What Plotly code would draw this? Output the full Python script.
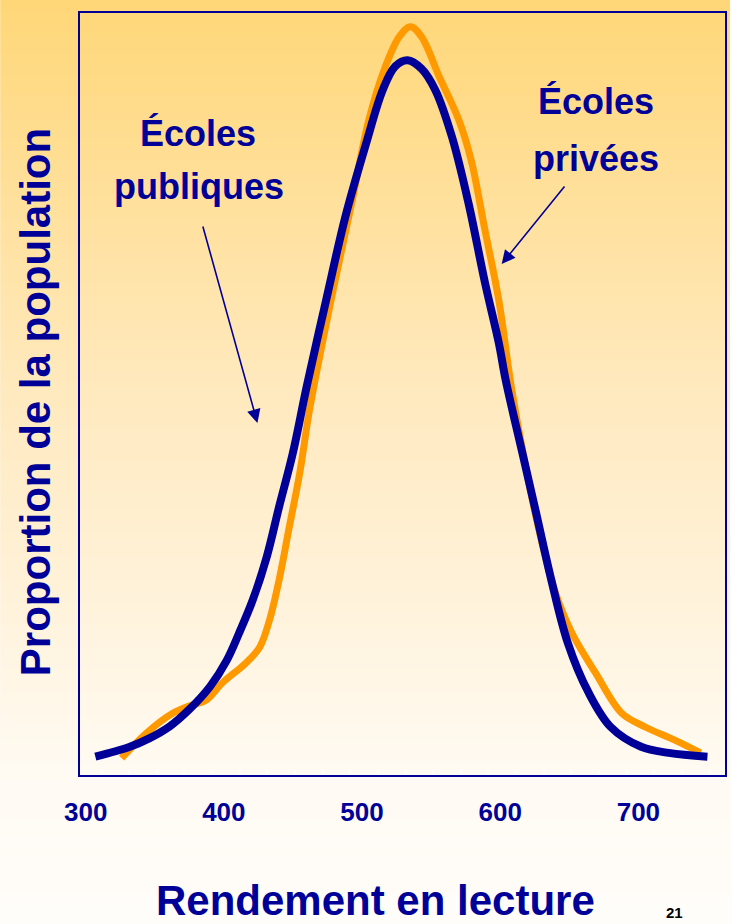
import plotly.graph_objects as go

# Reading score (x) and share of the population (arbitrary density units, y)
public_score = [307, 332, 346, 361, 375, 390, 402, 411, 421, 431, 440, 450, 460, 474,
                488, 503, 515, 524, 533, 543, 553, 565, 577, 589, 599, 604, 616, 625,
                637, 649, 664, 680, 702, 722, 750]
public_share = [0.24, 0.37, 0.48, 0.64, 0.86, 1.16, 1.50, 1.86, 2.30, 2.86, 3.52, 4.23,
                5.10, 6.23, 7.33, 8.29, 8.99, 9.30, 9.38, 9.27, 8.99, 8.38, 7.51, 6.46,
                5.67, 5.18, 4.23, 3.52, 2.56, 1.73, 1.08, 0.63, 0.37, 0.29, 0.24]

private_score = [326, 344, 363, 377, 387, 399, 416, 426, 433, 440, 447, 455, 462, 478,
                 493, 505, 517, 527, 535, 543, 556, 570, 579, 589, 599, 608, 618, 628,
                 640, 652, 669, 688, 705, 726, 745]
private_share = [0.22, 0.55, 0.81, 0.92, 0.98, 1.21, 1.47, 1.68, 2.03, 2.56, 3.22, 3.97,
                 4.79, 6.27, 7.55, 8.60, 9.30, 9.69, 9.82, 9.69, 9.16, 8.60, 8.07, 7.15,
                 6.23, 5.10, 4.09, 3.22, 2.39, 1.86, 1.34, 0.81, 0.63, 0.46, 0.29]

tick_values = [300, 400, 500, 600, 700]
tick_labels = ["300", "400", "500", "600", "700"]

BLUE = "#000099"
ORANGE = "#FF9900"
FONT = "Liberation Sans, Arial, sans-serif"

W, H = 732, 924
ML, MR, MT, MB = 80, 5, 13, 149


def fx(px):
    return (px - ML) / (W - ML - MR)


def fy(py):
    return (H - MB - py) / (H - MT - MB)


# vertical warm gradient for the slide background
stops = [(0, (255, 215, 120)), (390, (255, 233, 190)), (770, (255, 250, 242)), (924, (255, 253, 250))]


def grad(y):
    for (y0, c0), (y1, c1) in zip(stops[:-1], stops[1:]):
        if y <= y1:
            t = (y - y0) / (y1 - y0)
            return "rgb(%d,%d,%d)" % tuple(round(a + (b - a) * t) for a, b in zip(c0, c1))
    return "rgb(%d,%d,%d)" % stops[-1][1]


shapes = []
step = 3
for y in range(0, H, step):
    shapes.append(dict(type="rect", xref="paper", yref="paper", layer="below",
                       x0=fx(0), x1=fx(W), y0=fy(y), y1=fy(y + step + 0.6),
                       fillcolor=grad(y + step / 2), line=dict(width=0)))

fig = go.Figure()
fig.add_trace(go.Scatter(x=private_score, y=private_share, mode="lines",
                         line=dict(color=ORANGE, width=7, shape="spline", smoothing=1),
                         name="Écoles privées", hoverinfo="skip"))
fig.add_trace(go.Scatter(x=public_score, y=public_share, mode="lines",
                         line=dict(color=BLUE, width=8, shape="spline", smoothing=1),
                         name="Écoles publiques", hoverinfo="skip"))


def label(text, px, py, size=36, **kw):
    return dict(text=text, xref="paper", yref="paper", x=fx(px), y=fy(py),
                xanchor="center", yanchor="middle", showarrow=False,
                font=dict(family=FONT, size=size, color=BLUE, weight="bold"), **kw)


def arrow(tip, tail):
    return dict(text="", xref="paper", yref="paper", x=fx(tip[0]), y=fy(tip[1]),
                ax=tail[0] - tip[0], ay=tail[1] - tip[1], showarrow=True,
                arrowhead=2, arrowsize=1.7, arrowwidth=1.6, arrowcolor=BLUE, standoff=0)


annotations = [
    label("Écoles", 198, 133),
    label("publiques", 199, 186),
    label("Écoles", 598, 102),
    label("privées", 598, 159),
    arrow((258, 423), (203, 225)),
    arrow((503, 264), (567, 185)),
    label("Rendement en lecture", 376, 900, size=42),
    label("Proportion de la population", 35, 402, size=42, textangle=-90),
    dict(text="21", xref="paper", yref="paper", x=fx(676), y=fy(923),
         xanchor="center", yanchor="bottom", showarrow=False,
         font=dict(family=FONT, size=15, color="#000000", weight="bold")),
]

fig.update_layout(
    width=W, height=H,
    margin=dict(l=ML, r=MR, t=MT, b=MB, pad=0),
    paper_bgcolor="rgb(255,253,250)",
    plot_bgcolor="rgba(0,0,0,0)",
    showlegend=False,
    shapes=shapes,
    annotations=annotations,
    xaxis=dict(range=[295.9, 762.7], showgrid=False, zeroline=False,
               showline=True, linecolor=BLUE, linewidth=2, mirror=True,
               tickvals=tick_values, ticktext=tick_labels, ticks="",
               ticklabelstandoff=13,
               tickfont=dict(family=FONT, size=26, color=BLUE, weight="bold"),
               minor=dict(ticks="inside", tick0=311.5, dtick=20, ticklen=4,
                          tickwidth=1.5, tickcolor="white", showgrid=False)),
    yaxis=dict(range=[0, 10], showgrid=False, zeroline=False,
               showline=True, linecolor=BLUE, linewidth=2, mirror=True,
               showticklabels=False, ticks=""),
)

fig.write_html("out.html")
